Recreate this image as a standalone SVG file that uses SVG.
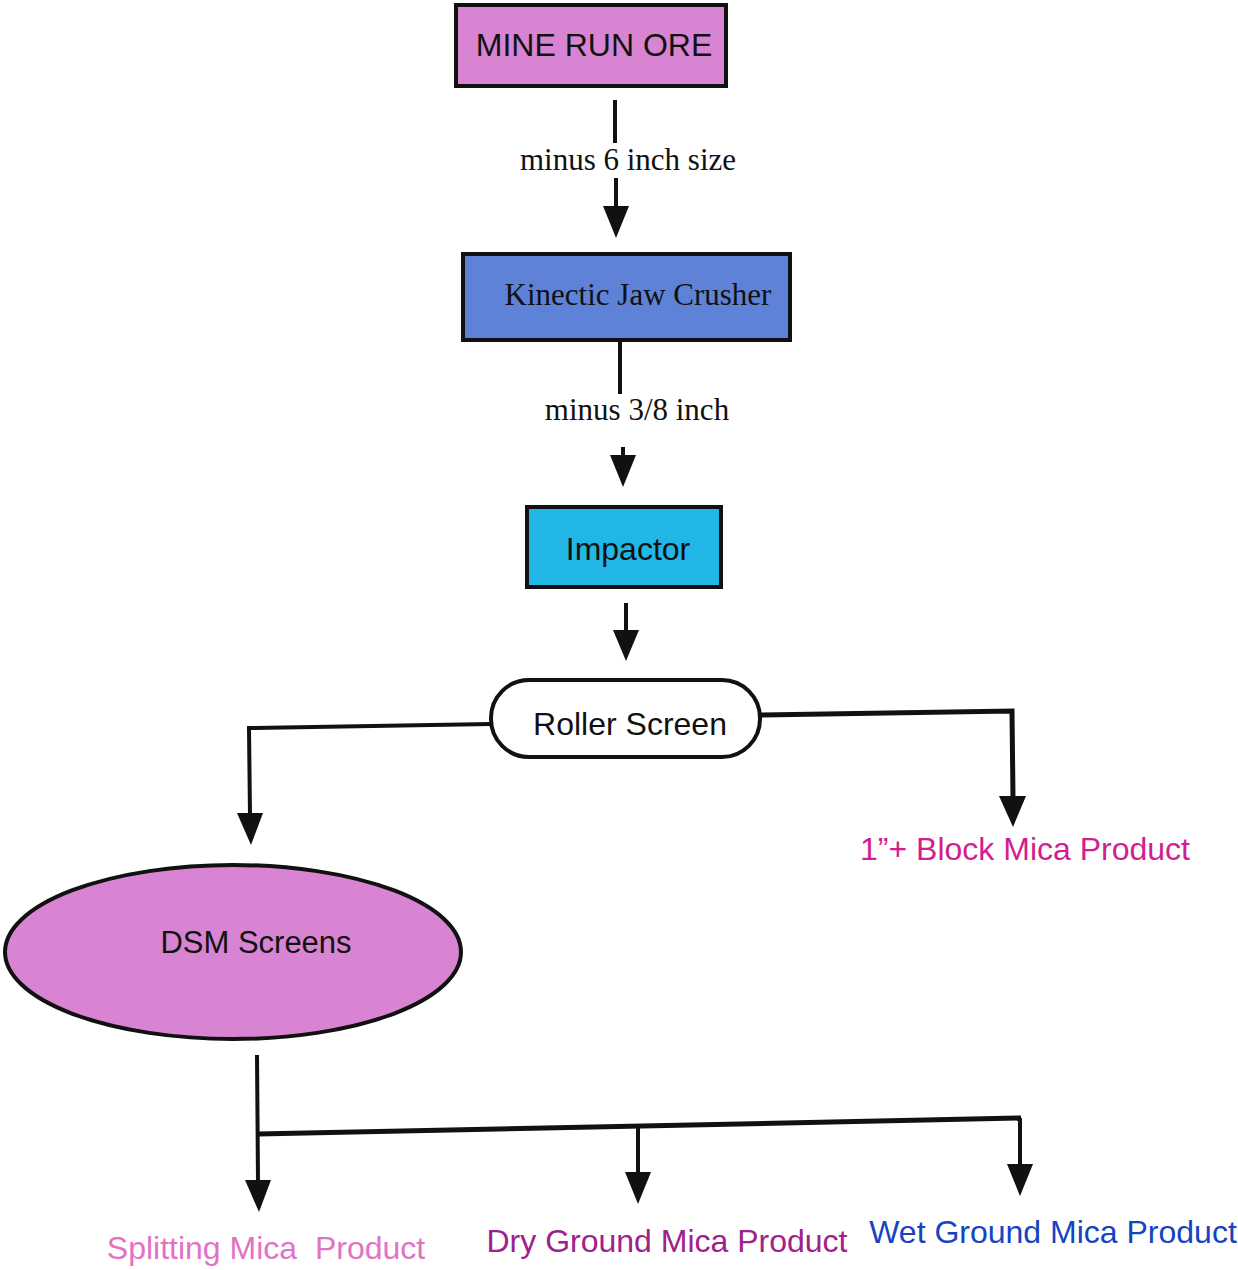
<svg xmlns="http://www.w3.org/2000/svg" width="1238" height="1270" viewBox="0 0 1238 1270">
<defs>
<style>
.box{stroke:#111;stroke-width:4}
.sans{font-family:"Liberation Sans",Arial,sans-serif;fill:#111;font-size:32px}
.serif{font-family:"Liberation Serif","Times New Roman",serif;fill:#111;font-size:31px}
.ln{stroke:#111;stroke-width:4;fill:none}
.thick{stroke:#111;stroke-width:5;fill:none}
.head{fill:#111}
</style>
</defs>
<rect width="1238" height="1270" fill="#fff"/>
<g id="mine-run-ore">
<rect class="box" x="456" y="5" width="270" height="81" fill="#d884d2"/>
<text class="sans" x="594" y="56" text-anchor="middle">MINE RUN ORE</text>
</g>
<g id="jaw-crusher">
<rect class="box" x="463" y="254" width="327" height="86" fill="#5d82d8"/>
<text class="serif" x="638" y="305" text-anchor="middle">Kinectic Jaw Crusher</text>
</g>
<g id="impactor">
<rect class="box" x="527" y="507" width="194" height="80" fill="#22b6e6"/>
<text class="sans" x="628" y="560" text-anchor="middle">Impactor</text>
</g>
<g id="roller-screen">
<rect class="box" x="491" y="680" width="269" height="77" rx="38" fill="#fff"/>
<text class="sans" x="630" y="735" text-anchor="middle">Roller Screen</text>
</g>
<g id="dsm-screens">
<ellipse class="box" cx="233" cy="952" rx="228" ry="87" fill="#d884d2"/>
<text class="sans" x="256" y="953" text-anchor="middle" style="font-size:31px">DSM Screens</text>
</g>
<g id="block-mica">
<text class="sans" x="1025" y="860" text-anchor="middle" style="fill:#d21e8e">1”+ Block Mica Product</text>
</g>
<g id="splitting-mica">
<text class="sans" x="266" y="1259" text-anchor="middle" style="fill:#e272c4" xml:space="preserve">Splitting Mica  Product</text>
</g>
<g id="dry-ground">
<text class="sans" x="667" y="1252" text-anchor="middle" style="fill:#a0208c">Dry Ground Mica Product</text>
</g>
<g id="wet-ground">
<text class="sans" x="1053" y="1243" text-anchor="middle" style="fill:#1444c0">Wet Ground Mica Product</text>
</g>
<g id="connectors">
<line class="ln" x1="615" y1="100" x2="615" y2="143"/>
<text class="serif" x="628" y="170" text-anchor="middle">minus 6 inch size</text>
<line class="ln" x1="616" y1="178" x2="616" y2="208"/>
<polygon class="head" points="603,206 629,206 616,238"/>
<line class="ln" x1="620" y1="340" x2="620" y2="394"/>
<text class="serif" x="637" y="420" text-anchor="middle">minus 3/8 inch</text>
<line class="ln" x1="623" y1="447" x2="623" y2="456"/>
<polygon class="head" points="610,455 636,455 623,487"/>
<line class="ln" x1="626" y1="603" x2="626" y2="632"/>
<polygon class="head" points="613,630 639,630 626,661"/>
<polyline class="ln" points="491,724 249,728 250,816"/>
<polygon class="head" points="237,813 263,813 251,845"/>
<polyline class="thick" points="760,715 1012,711 1013,798"/>
<polygon class="head" points="999,796 1026,796 1013,827"/>
<line class="ln" x1="257" y1="1055" x2="258" y2="1182"/>
<polygon class="head" points="245,1180 271,1180 259,1212"/>
<line class="thick" x1="258" y1="1134" x2="1021" y2="1118"/>
<line class="ln" x1="638" y1="1128" x2="638" y2="1174"/>
<polygon class="head" points="625,1172 651,1172 638,1204"/>
<line class="ln" x1="1020" y1="1118" x2="1020" y2="1166"/>
<polygon class="head" points="1007,1164 1033,1164 1020,1196"/>
</g>
</svg>
